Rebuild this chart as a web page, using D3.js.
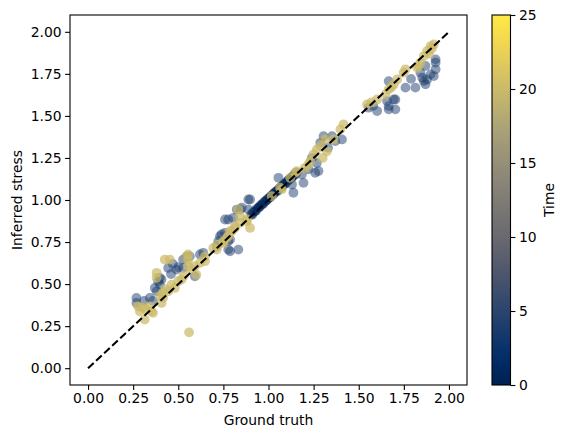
<!DOCTYPE html>
<html>
<head>
<meta charset="utf-8">
<script src="https://cdn.jsdelivr.net/npm/d3@7"></script>
<style>
html,body{margin:0;padding:0;background:#fff;}
text{font-family:"DejaVu Sans",sans-serif;fill:#000;}
</style>
</head>
<body>
<svg id="chart" width="567" height="438"></svg>
<script>
// ---- data ----
// early time (t≈0–1): dense band near ground truth ≈ 1
const bandTruth    = [0.905,0.915,0.925,0.935,0.945,0.955,0.965,0.975,0.985,0.995,1.005,1.015,1.025,1.035,1.045,1.055,1.065,1.075,1.085,1.095,1.105,1.115,1.125,1.135,1.145,1.155,0.91,0.93,0.95,0.97,0.99,1.01,1.03,1.05,1.07,1.09,1.11,1.13,1.15];
const bandInferred = [0.915,0.928,0.934,0.948,0.955,0.967,0.976,0.988,0.994,1.006,1.014,1.026,1.033,1.046,1.052,1.064,1.073,1.082,1.094,1.101,1.112,1.121,1.130,1.142,1.150,1.162,0.912,0.935,0.958,0.976,0.998,1.016,1.038,1.055,1.078,1.096,1.118,1.135,1.157];
const bandTime     = [0,0,0,0,0,0,0,0,0,0,0,0,0,0,0,0,0,0,0,0,0,0,0,0,0,0,1,1,1,1,1,1,1,1,1,1,1,1,1];

// intermediate early time (t≈4)
const blueTruth = [0.268,0.268,0.342,0.31,0.37,0.38,0.444,0.49,0.527,0.546,0.62,0.527,0.407,0.388,0.398,0.592,0.398,0.46,0.50,0.36,0.47,
  0.638,0.722,0.777,0.805,0.842,0.898,0.787,0.713,0.731,0.777,0.787,0.824,0.888,0.852,0.888,0.759,0.74,0.777,0.564,0.759,0.833,
  1.055,1.13,1.138,
  1.222,1.259,1.277,1.287,1.305,1.352,1.37,1.407,1.185,1.194,1.268,1.24,1.33,
  1.555,1.602,1.666,1.694,1.759,1.814,1.87,1.852,1.898,1.926,1.926,1.666,1.703,1.666,1.842,1.87,1.861,1.879,1.916,1.926,1.657,1.703,1.79,1.58];
const blueInferred = [0.418,0.388,0.418,0.40,0.477,0.457,0.596,0.586,0.646,0.665,0.676,0.596,0.527,0.517,0.497,0.546,0.537,0.56,0.60,0.40,0.62,
  0.686,0.755,0.884,0.894,0.943,1.003,0.695,0.725,0.785,0.705,0.765,0.943,1.003,0.954,0.943,0.884,0.795,0.755,0.665,0.805,0.705,
  1.132,1.092,1.043,
  1.182,1.162,1.172,1.34,1.38,1.38,1.35,1.36,1.152,1.102,1.22,1.25,1.31,
  1.549,1.529,1.558,1.598,1.668,1.668,1.688,1.727,1.747,1.817,1.836,1.707,1.598,1.539,1.757,1.797,1.707,1.717,1.737,1.777,1.588,1.539,1.72,1.56];
const blueTime = 4;

// late time (t≈20)
const lateTruth = [0.277,0.287,0.342,0.352,0.36,0.407,0.416,0.38,0.38,0.425,0.453,0.546,0.555,0.62,0.60,0.648,0.463,0.50,0.518,0.481,0.444,0.416,0.314,0.56,0.555,0.555,0.592,0.30,0.32,0.40,0.43,0.53,0.57,
  0.713,0.75,0.777,0.787,0.814,0.842,0.898,0.88,0.833,0.842,0.879,0.814,0.796,0.768,0.722,0.694,0.648,0.75,
  1.018,1.064,1.12,1.157,1.074,1.148,
  1.231,1.249,1.268,1.287,1.314,1.324,1.361,1.398,1.416,1.20,1.22,1.30,
  1.546,1.602,1.648,1.666,1.694,1.713,1.749,1.759,1.824,1.842,1.861,1.879,1.898,1.916,1.57,1.68,1.83,1.89,1.905];
const lateInferred = [0.368,0.338,0.368,0.338,0.329,0.388,0.418,0.567,0.537,0.646,0.646,0.665,0.606,0.626,0.556,0.636,0.497,0.517,0.527,0.477,0.457,0.448,0.289,0.213,0.676,0.646,0.606,0.36,0.35,0.43,0.47,0.55,0.59,
  0.705,0.745,0.785,0.815,0.844,0.864,0.834,0.884,0.943,0.904,0.874,0.834,0.814,0.775,0.735,0.715,0.665,0.755,
  1.023,1.073,1.132,1.171,1.063,1.162,
  1.231,1.271,1.301,1.32,1.36,1.29,1.36,1.42,1.45,1.19,1.21,1.25,
  1.568,1.598,1.628,1.658,1.687,1.717,1.757,1.777,1.787,1.817,1.856,1.886,1.915,1.925,1.58,1.67,1.80,1.87,1.90];
const lateTime = 20;

const axisTicks = [0,0.25,0.5,0.75,1.0,1.25,1.5,1.75,2.0];
const timeTicks = [0,5,10,15,20,25];
const timeDomain = [0,25];
const identityLine = [[0,0],[2,2]];

// ---- build points ----
const points = [];
bandTruth.forEach((v,i)=>points.push({x:v,y:bandInferred[i],t:bandTime[i],a:0.5}));
blueTruth.forEach((v,i)=>points.push({x:v,y:blueInferred[i],t:blueTime,a:0.5}));
lateTruth.forEach((v,i)=>points.push({x:v,y:lateInferred[i],t:lateTime,a:0.72}));

// ---- layout ----
const svg = d3.select("#chart");
const L=70, R=467, T=15, B=385;
const x = d3.scaleLinear().domain([-0.1,2.1]).range([L,R]);
const y = d3.scaleLinear().domain([-0.1,2.1]).range([B,T]);
const color = d3.scaleSequential(d3.interpolateCividis).domain(timeDomain);
const fs = 13.9;

// points
svg.append("g").selectAll("circle").data(points).join("circle")
  .attr("cx",d=>x(d.x)).attr("cy",d=>y(d.y)).attr("r",4.9)
  .attr("fill",d=>color(d.t)).attr("fill-opacity",d=>d.a);

// identity line
svg.append("path")
  .attr("d",d3.line().x(d=>x(d[0])).y(d=>y(d[1]))(identityLine))
  .attr("stroke","#000").attr("stroke-width",2.08).attr("fill","none")
  .attr("stroke-dasharray","7.7,3.3");

// axes
const xAxis = d3.axisBottom(x).tickValues(axisTicks).tickFormat(d3.format(".2f")).tickSize(4.9).tickPadding(3.5);
const yAxis = d3.axisLeft(y).tickValues(axisTicks).tickFormat(d3.format(".2f")).tickSize(4.9).tickPadding(3.5);
const gx = svg.append("g").attr("transform",`translate(0,${B})`).call(xAxis);
const gy = svg.append("g").attr("transform",`translate(${L},0)`).call(yAxis);
[gx,gy].forEach(g=>{
  g.select(".domain").remove();
  g.selectAll(".tick line").attr("stroke","#000").attr("stroke-width",1.1);
  g.selectAll(".tick text").attr("font-size",fs).attr("font-family","DejaVu Sans");
});
// frame
svg.append("rect").attr("x",L).attr("y",T).attr("width",R-L).attr("height",B-T)
  .attr("fill","none").attr("stroke","#000").attr("stroke-width",1.1);

svg.append("text").attr("x",(L+R)/2).attr("y",425).attr("text-anchor","middle")
  .attr("font-size",fs).text("Ground truth");
svg.append("text").attr("transform",`translate(22,${(T+B)/2}) rotate(-90)`).attr("text-anchor","middle")
  .attr("font-size",fs).text("Inferred stress");

// colorbar
const cbL=492, cbW=18.5;
const defs = svg.append("defs");
const grad = defs.append("linearGradient").attr("id","cb").attr("x1",0).attr("y1",1).attr("x2",0).attr("y2",0);
d3.range(0,1.0001,0.05).forEach(s=>grad.append("stop").attr("offset",s).attr("stop-color",d3.interpolateCividis(s)));
const cy = d3.scaleLinear().domain(timeDomain).range([B,T]);
svg.append("rect").attr("x",cbL).attr("y",T).attr("width",cbW).attr("height",B-T)
  .attr("fill","url(#cb)").attr("stroke","#000").attr("stroke-width",1.1);
const gc = svg.append("g").attr("transform",`translate(${cbL+cbW},0)`)
  .call(d3.axisRight(cy).tickValues(timeTicks).tickSize(4.9).tickPadding(3.5));
gc.select(".domain").remove();
gc.selectAll(".tick line").attr("stroke","#000").attr("stroke-width",1.1);
gc.selectAll(".tick text").attr("font-size",fs).attr("font-family","DejaVu Sans");
svg.append("text").attr("transform",`translate(554,${(T+B)/2}) rotate(-90)`).attr("text-anchor","middle")
  .attr("font-size",fs).text("Time");
</script>
</body>
</html>
